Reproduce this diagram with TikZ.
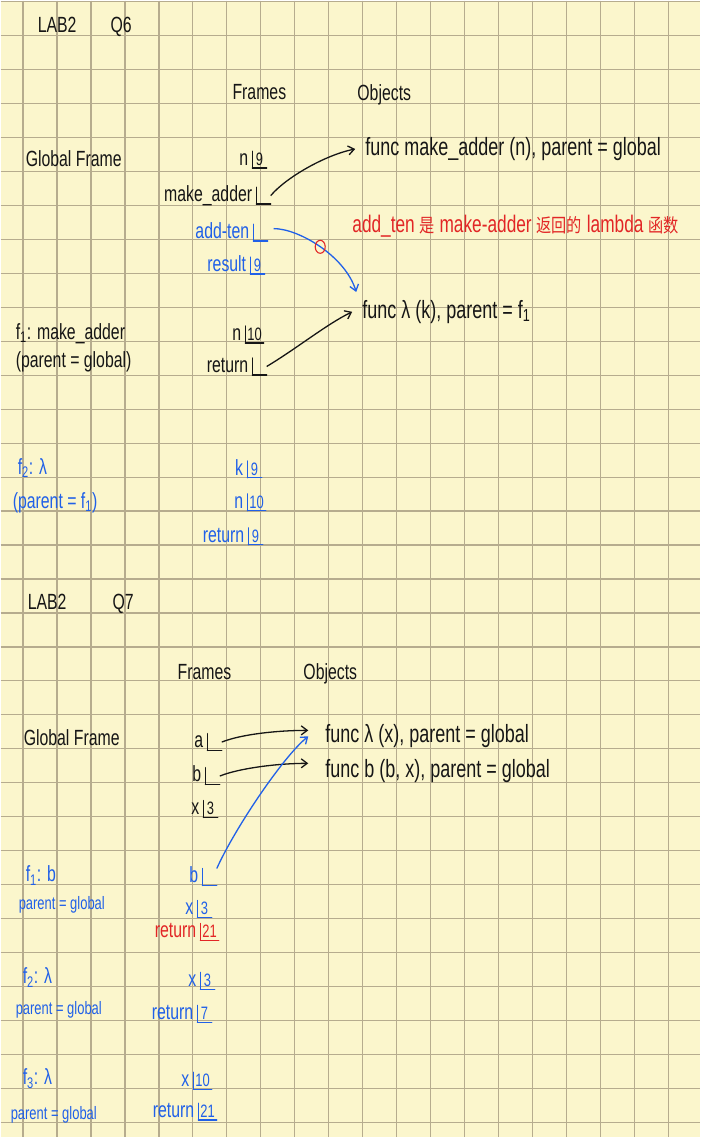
\documentclass[tikz,border=0pt]{standalone}
\usepackage{fontspec}
\setmainfont{Liberation Sans}[FakeStretch=0.72]
\newfontfamily\cjk{Noto Sans CJK SC}[FakeStretch=0.8]
\usetikzlibrary{calc,arrows.meta,shapes.geometric}
\definecolor{paper}{RGB}{251,246,204}
\definecolor{gridc}{RGB}{182,172,142}
\definecolor{ink}{RGB}{22,22,22}
\definecolor{blu}{RGB}{32,96,232}
\definecolor{rd}{RGB}{226,38,38}
\newcommand\fentry[6]{%
  \node[lb=#2] (#1) at (#3,#4) {#6};
  \node[lbl=#2, anchor=base east] (#1n) at ($(#1.base west)+(-4,0)$) {#5};}
\begin{document}
\begin{tikzpicture}[x=1pt,y=-1pt,
  lbl/.style={inner sep=0pt, font=\fontsize{22}{26}\selectfont, text=#1},
  obj/.style={inner sep=0pt, anchor=base west, font=\fontsize{25}{29}\selectfont, text=ink},
  sml/.style={font=\fontsize{18}{21}\selectfont},
  lb/.style={anchor=base west, inner xsep=1.8pt, inner ysep=1.5pt, text height=12.5pt, text depth=1pt,
    minimum width=14pt, font=\fontsize{18}{20}\selectfont, text=#1,
    append after command={(\tikzlastnode.south west) edge[draw=#1, line width=1.3pt, line cap=round] (\tikzlastnode.north west)
      (\tikzlastnode.south west) edge[draw=#1, line width=1.3pt, line cap=round] (\tikzlastnode.south east)}},
  ptr/.style={draw=#1, line width=1.3pt, -{Straight Barb[length=6pt,width=9pt,line width=1.3pt]}},
]
% paper and grid
\fill[paper] (0,0) rectangle (700,1138);
\foreach \i in {0,...,19} \draw[gridc, line width=1.2pt] ({22.5+34*\i},0) -- ({22.5+34*\i},1138);
\foreach \j in {0,...,33} \draw[gridc, line width=1.2pt] (0,{1+34*\j}) -- (700,{1+34*\j});
\useasboundingbox (0,0) rectangle (700,1138);

% ---------- LAB2 Q6 ----------
\node[lbl=ink, anchor=base west] (lab1) at (37,32) {LAB2};
\node[lbl=ink, anchor=base west] (q6) at (110,32) {Q6};
\node[lbl=ink, anchor=base west] (fr1) at (232,99) {Frames};
\node[lbl=ink, anchor=base west] (ob1) at (357,100) {Objects};
\node[lbl=ink, anchor=base west] (gf1) at (25,166) {Global Frame};
\fentry{gn}{ink}{252}{165}{n}{9}
\fentry{gma}{ink}{256}{201}{make\_adder}{}
\fentry{gat}{blu}{253}{238}{add-ten}{}
\fentry{grs}{blu}{250}{271}{result}{9}
\node[obj] (o1) at (365,155) {func make\_adder (n), parent = global};
\node[lbl=rd, anchor=base west, font=\fontsize{24}{28}\selectfont] (note) at (352,232)
  {add\_ten {\cjk\fontsize{19}{21}\selectfont 是} make-adder {\cjk\fontsize{19}{21}\selectfont 返回的} lambda {\cjk\fontsize{19}{21}\selectfont 函数}};

\node[lbl=ink, anchor=base west] (f1a) at (15,339) {f\textsubscript{1}: make\_adder};
\node[lbl=ink, anchor=base west] (f1b) at (15,367) {(parent = global)};
\fentry{an}{ink}{245}{340}{n}{10}
\fentry{aret}{ink}{252}{372}{return}{}
\node[obj] (o2) at (362,318) {func λ (k), parent = f\textsubscript{1}};

\node[lbl=blu, anchor=base west] (f2a) at (17,474) {f\textsubscript{2}: λ};
\node[lbl=blu, anchor=base west] (f2b) at (12,508) {(parent = f\textsubscript{1})};
\fentry{bk}{blu}{247}{475}{k}{9}
\fentry{bn}{blu}{247}{508}{n}{10}
\fentry{bret}{blu}{248}{542}{return}{9}

\draw[ptr=ink] (gma.east) .. controls +(15,-18) and +(-30,6) .. ($(o1.west)+(-10,0)$);
\coordinate (attip) at ($(o2.north west)+(-6,-8)$);
\draw[ptr=blu] ($(gat.east)+(6,-4)$) .. controls +(25,0) and +(-11,-36) .. (attip)
  node[pos=0.5, ellipse, draw=rd, line width=1.1pt, minimum width=10pt, minimum height=13pt, inner sep=0pt] (rc) {};
\draw[ptr=ink] (aret.east) .. controls +(30,-18) and +(-25,12) .. ($(o2.west)+(-10,0)$);

% ---------- LAB2 Q7 ----------
\node[lbl=ink, anchor=base west] (lab2) at (27,610) {LAB2};
\node[lbl=ink, anchor=base west] (q7) at (112,610) {Q7};
\node[lbl=ink, anchor=base west] (fr2) at (177,680) {Frames};
\node[lbl=ink, anchor=base west] (ob2) at (303,680) {Objects};
\node[lbl=ink, anchor=base west] (gf2) at (23,746) {Global Frame};
\fentry{ga}{ink}{207}{748}{a}{}
\fentry{gb}{ink}{205}{782}{b}{}
\fentry{gx}{ink}{203}{815}{x}{3}
\node[obj] (oa) at (325,743) {func λ (x), parent = global};
\node[obj] (ob) at (325,778) {func b (b, x), parent = global};

\node[lbl=blu, anchor=base west] (h1a) at (25,882) {f\textsubscript{1}: b};
\node[lbl=blu, anchor=base west, sml] (h1b) at (18,910) {parent = global};
\fentry{cb}{blu}{202}{883}{b}{}
\fentry{cx}{blu}{197}{915}{x}{3}
\fentry{cret}{rd}{200}{938}{return}{21}

\node[lbl=blu, anchor=base west] (h2a) at (22,984) {f\textsubscript{2}: λ};
\node[lbl=blu, anchor=base west, sml] (h2b) at (15,1015) {parent = global};
\fentry{dx}{blu}{200}{987}{x}{3}
\fentry{dret}{blu}{197}{1020}{return}{7}

\node[lbl=blu, anchor=base west] (h3a) at (22,1085) {f\textsubscript{3}: λ};
\node[lbl=blu, anchor=base west, sml] (h3b) at (10,1120) {parent = global};
\fentry{ex}{blu}{193}{1087}{x}{10}
\fentry{eret}{blu}{198}{1118}{return}{21}

\draw[ptr=ink] (ga.east) .. controls +(20,-8) and +(-30,0) .. ($(oa.west)+(-17,-6)$);
\draw[ptr=ink] (gb.east) .. controls +(20,-8) and +(-30,0) .. ($(ob.west)+(-17,-8)$);
\draw[ptr=blu] (cb.north east) .. controls +(18,-40) and +(-25,20) .. ($(oa.west)+(-17,0)$);
\end{tikzpicture}
\end{document}
